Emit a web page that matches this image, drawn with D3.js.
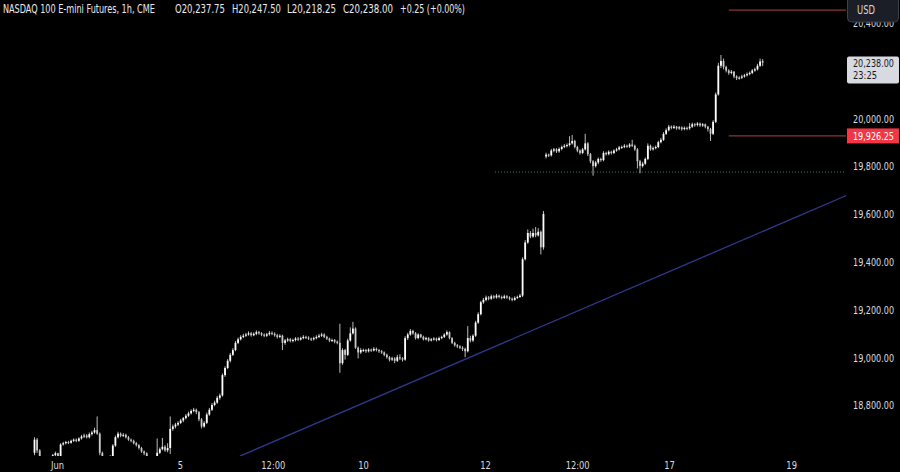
<!DOCTYPE html>
<html><head><meta charset="utf-8">
<script src="https://cdn.jsdelivr.net/npm/d3@7"></script>
<style>html,body{margin:0;padding:0;background:#000;} svg{display:block;}</style>
</head><body>
<svg id="c" width="900" height="472"></svg>
<script>
// ---- DATA (hourly bars, NQ1! continuous) ----
const title = "NASDAQ 100 E-mini Futures, 1h, CME";
const opens = [
18600,18655,18610,18570,18560,18575,18565,18580,18590,18598,
18585,18635,18640,18645,18642,18650,18655,18650,18660,18668,
18672,18665,18678,18685,18695,18680,18600,18570,18560,18575,
18580,18630,18665,18680,18672,18675,18665,18655,18650,18640,
18632,18620,18605,18598,18575,18565,18570,18580,18600,18615,
18625,18610,18620,18700,18710,18718,18725,18735,18745,18755,
18765,18775,18780,18770,18740,18710,18725,18760,18780,18800,
18810,18830,18840,18925,18955,18985,19010,19030,19060,19075,
19085,19090,19095,19100,19092,19098,19105,19100,19094,19090,
19096,19102,19098,19092,19085,19090,19060,19070,19075,19068,
19072,19078,19074,19080,19085,19082,19078,19075,19080,19085,
19090,19095,19085,19078,19070,19072,19065,19060,18975,19030,
19010,19070,19100,19120,19040,19020,19030,19030,19025,19032,
19028,19035,19030,19025,19020,19010,19000,18990,18995,18985,
19000,18995,18990,19080,19095,19110,19100,19080,19095,19085,
19075,19080,19070,19075,19078,19072,19080,19085,19095,19105,
19080,19060,19050,19045,19040,19035,19025,19080,19070,19090,
19145,19180,19230,19240,19250,19245,19255,19250,19258,19252,
19248,19255,19250,19245,19240,19248,19252,19258,19410,19480,
19520,19505,19520,19510,19525,19460,19840,19848,19845,19865,
19870,19862,19872,19880,19885,19888,19895,19905,19880,19865,
19855,19870,19895,19850,19820,19800,19815,19830,19825,19855,
19850,19860,19855,19865,19870,19878,19880,19885,19882,19890,
19885,19870,19820,19800,19810,19830,19885,19870,19875,19880,
19900,19910,19935,19950,19965,19960,19965,19958,19962,19955,
19960,19958,19965,19975,19972,19978,19970,19975,19965,19955,
19935,19985,20100,20220,20240,20215,20200,20190,20195,20175,
20168,20170,20175,20180,20185,20190,20200,20205,20220,20237.75];
const highs = [
18665,18662,18615,18578,18582,18580,18586,18595,18605,18600,
18640,18646,18650,18650,18655,18660,18660,18665,18675,18680,
18678,18685,18692,18705,18752,18685,18605,18575,18580,18590,
18636,18672,18688,18685,18682,18680,18670,18660,18655,18645,
18636,18625,18610,18602,18580,18578,18586,18660,18622,18662,
18632,18640,18752,18718,18725,18732,18742,18750,18762,18772,
18782,18788,18785,18775,18745,18732,18768,18788,18808,18818,
18838,18848,18932,18962,18992,19018,19038,19068,19082,19092,
19098,19102,19108,19106,19104,19112,19110,19105,19100,19102,
19110,19108,19104,19098,19096,19094,19076,19082,19080,19078,
19084,19084,19086,19092,19090,19088,19082,19086,19092,19098,
19102,19100,19090,19082,19078,19076,19070,19140,19038,19035,
19078,19125,19148,19125,19045,19038,19036,19035,19038,19036,
19042,19040,19034,19030,19024,19015,19005,19002,19000,19010,
19012,19000,19088,19102,19118,19115,19105,19100,19098,19090,
19086,19084,19080,19084,19082,19086,19090,19100,19112,19108,
19084,19065,19055,19050,19046,19040,19130,19090,19096,19152,
19188,19236,19248,19258,19256,19262,19260,19265,19262,19258,
19262,19260,19255,19250,19255,19258,19265,19418,19490,19535,
19528,19538,19545,19540,19530,19612,19856,19852,19872,19876,
19875,19878,19886,19892,19895,19925,19930,19910,19885,19870,
19876,19935,19900,19855,19825,19822,19836,19835,19862,19860,
19866,19864,19870,19876,19884,19886,19892,19890,19896,19910,
19890,19875,19826,19818,19836,19895,19890,19882,19886,19906,
19918,19942,19958,19972,19970,19972,19968,19968,19966,19966,
19965,19980,19982,19980,19984,19982,19980,19978,19968,19960,
19992,20108,20232,20265,20250,20220,20205,20202,20198,20180,
20176,20182,20186,20192,20196,20206,20212,20228,20250,20247.5];
const lows = [
18590,18600,18560,18550,18555,18558,18560,18575,18585,18578,
18580,18630,18635,18636,18638,18645,18644,18646,18655,18662,
18660,18660,18672,18680,18675,18590,18560,18550,18555,18568,
18575,18625,18660,18665,18666,18660,18650,18644,18635,18626,
18614,18600,18590,18568,18558,18560,18565,18575,18595,18610,
18604,18602,18595,18692,18702,18712,18720,18728,18740,18750,
18760,18770,18762,18732,18702,18705,18720,18755,18775,18795,
18805,18822,18835,18918,18950,18978,19005,19025,19055,19070,
19080,19085,19090,19086,19088,19092,19094,19088,19084,19085,
19090,19092,19086,19078,19080,19030,19052,19064,19062,19062,
19066,19068,19070,19075,19076,19072,19068,19070,19075,19080,
19085,19080,19072,19064,19064,19058,19054,18935,18968,18990,
19005,19065,19095,19035,18995,19014,19022,19018,19020,19022,
19024,19024,19018,19014,19004,18994,18982,18984,18975,18980,
18988,18982,18985,19072,19090,19094,19074,19075,19080,19070,
19070,19065,19066,19070,19066,19068,19075,19080,19090,19075,
19055,19044,19038,19034,19026,19000,19020,19062,19064,19085,
19140,19175,19224,19234,19238,19240,19244,19245,19246,19242,
19244,19244,19238,19234,19236,19244,19248,19252,19405,19475,
19498,19500,19502,19505,19430,19450,19832,19838,19840,19858,
19855,19856,19866,19875,19878,19882,19890,19874,19858,19848,
19850,19865,19842,19812,19760,19794,19808,19818,19820,19844,
19845,19848,19850,19860,19865,19872,19875,19876,19876,19880,
19864,19790,19770,19794,19805,19825,19864,19865,19870,19875,
19895,19905,19930,19945,19954,19955,19952,19952,19948,19950,
19950,19952,19960,19965,19966,19964,19964,19958,19945,19905,
19930,19980,20095,20210,20205,20192,20182,20184,20168,20160,
20162,20164,20170,20175,20180,20185,20195,20200,20215,20218.25];
const closes = [
18655,18610,18570,18560,18575,18565,18580,18590,18598,18585,
18635,18640,18645,18642,18650,18655,18650,18660,18668,18672,
18665,18678,18685,18695,18680,18600,18570,18560,18575,18580,
18630,18665,18680,18672,18675,18665,18655,18650,18640,18632,
18620,18605,18598,18575,18565,18570,18580,18600,18615,18625,
18610,18620,18700,18710,18718,18725,18735,18745,18755,18765,
18775,18780,18770,18740,18710,18725,18760,18780,18800,18810,
18830,18840,18925,18955,18985,19010,19030,19060,19075,19085,
19090,19095,19100,19092,19098,19105,19100,19094,19090,19096,
19102,19098,19092,19085,19090,19060,19070,19075,19068,19072,
19078,19074,19080,19085,19082,19078,19075,19080,19085,19090,
19095,19085,19078,19070,19072,19065,19060,18975,19030,19010,
19070,19100,19120,19040,19020,19030,19030,19025,19032,19028,
19035,19030,19025,19020,19010,19000,18990,18995,18985,19000,
18995,18990,19080,19095,19110,19100,19080,19095,19085,19075,
19080,19070,19075,19078,19072,19080,19085,19095,19105,19080,
19060,19050,19045,19040,19035,19025,19080,19070,19090,19145,
19180,19230,19240,19250,19245,19255,19250,19258,19252,19248,
19255,19250,19245,19240,19248,19252,19258,19410,19480,19520,
19505,19520,19510,19525,19460,19600,19848,19845,19865,19870,
19862,19872,19880,19885,19888,19895,19905,19880,19865,19855,
19870,19895,19850,19820,19800,19815,19830,19825,19855,19850,
19860,19855,19865,19870,19878,19880,19885,19882,19890,19885,
19870,19820,19800,19810,19830,19885,19870,19875,19880,19900,
19910,19935,19950,19965,19960,19965,19958,19962,19955,19960,
19958,19965,19975,19972,19978,19970,19975,19965,19955,19935,
19985,20100,20220,20240,20215,20200,20190,20195,20175,20168,
20170,20175,20180,20185,20190,20200,20205,20220,20237.75,20238];

const yTicks = [18800,19000,19200,19400,19600,19800,20000,20400];
const xTickIdx = [8.6,55.7,91.3,125.9,172.6,207.9,243.1,289.9];
const xTickLabels = ["Jun","5","12:00","10","12","12:00","17","19"];
const trendIdx = [78.7,311.9];
const trendPrice = [18586,19681];
const hLineLevels = [20453,19926.25];
const hLineStartIdx = 266;
const supportLevel = 19775;
const supportStartIdx = 176.4;
const alertLabel = "19,926.25";
const lastPriceLabel = "20,238.00";
const countdownLabel = "23:25";
const changeLabel = "+0.25 (+0.00%)";

// ---- CHART ----
const W=900,H=472,paneR=846,paneB=456;
const FONT="'Liberation Sans Narrow','Arial Narrow','DejaVu Sans Condensed','Liberation Sans',Arial,sans-serif";
const svg=d3.select('#c');
svg.append('rect').attr('width',W).attr('height',H).attr('fill','#000');
const x=d3.scaleLinear().domain([0,279]).range([34.5,762.7]);
const y=d3.scaleLinear().domain([18800,20000]).range([405,118.3]);
const fmt=d3.format(",.2f");

// horizontally fit a text element to a target width (scale about its anchor)
function fitW(sel,target){
  sel.each(function(){
    const w=this.getComputedTextLength();
    const sx=Math.max(0.6,Math.min(1.2,target/w));
    const t=d3.select(this);
    const tx=+t.attr('x')||0, ty=+t.attr('y')||0;
    t.attr('x',0).attr('y',0).attr('transform',`translate(${tx},${ty}) scale(${sx},1)`);
  });
}
function label(str,xx,yy,size,fill,anchor,target){
  const t=svg.append('text').text(str).attr('x',xx).attr('y',yy)
    .attr('font-family',FONT).attr('font-size',size).attr('fill',fill).attr('text-anchor',anchor||'start');
  if(target) fitW(t,target);
  return t;
}

svg.append('defs').append('clipPath').attr('id','pane')
  .append('rect').attr('x',0).attr('y',0).attr('width',paneR).attr('height',paneB);
const pane=svg.append('g').attr('clip-path','url(#pane)');

// trend line
pane.append('line')
  .attr('x1',x(trendIdx[0])).attr('y1',y(trendPrice[0]))
  .attr('x2',x(trendIdx[1])).attr('y2',y(trendPrice[1]))
  .attr('stroke','#2d3a8f').attr('stroke-width',1.3);

// support dotted
pane.append('line')
  .attr('x1',x(supportStartIdx)).attr('x2',paneR)
  .attr('y1',y(supportLevel)).attr('y2',y(supportLevel))
  .attr('stroke','#4e7c7c').attr('stroke-width',1).attr('stroke-dasharray','1,2');

// horizontal red lines
pane.selectAll('line.h').data(hLineLevels).join('line').attr('class','h')
  .attr('x1',x(hLineStartIdx)).attr('x2',paneR)
  .attr('y1',d=>y(d)).attr('y2',d=>y(d))
  .attr('stroke','#8c3636').attr('stroke-width',1.2);

// candles
const bars=d3.range(closes.length).map(i=>({i,o:opens[i],h:highs[i],l:lows[i],c:closes[i]}));
const cg=pane.append('g');
cg.selectAll('line.w').data(bars).join('line').attr('class','w')
  .attr('x1',d=>x(d.i)).attr('x2',d=>x(d.i))
  .attr('y1',d=>y(d.h)).attr('y2',d=>y(d.l))
  .attr('stroke','#d0d0d0').attr('stroke-width',0.9);
cg.selectAll('rect').data(bars).join('rect')
  .attr('x',d=>x(d.i)-0.9).attr('width',1.8)
  .attr('y',d=>y(Math.max(d.o,d.c)))
  .attr('height',d=>Math.max(1,Math.abs(y(d.o)-y(d.c))))
  .attr('fill',d=>d.c>=d.o?'#ffffff':'#c8c8c8');

// y axis
const ya=svg.append('g').attr('transform','translate(894,0)')
  .call(d3.axisRight(y).tickValues(yTicks).tickFormat(fmt).tickSize(0));
ya.select('.domain').remove();
ya.selectAll('text').attr('x',0).attr('y',0).attr('dy','0.35em').attr('text-anchor','end')
  .attr('font-family',FONT).attr('font-size',11).attr('fill','#dedede');
fitW(ya.selectAll('text'),41);

// x axis
const xa=svg.append('g')
  .call(d3.axisBottom(x).tickValues(xTickIdx).tickFormat((d,i)=>xTickLabels[i]).tickSize(0));
xa.select('.domain').remove();
xa.selectAll('text').attr('y',469).attr('dy',0)
  .attr('font-family',FONT).attr('font-size',11).attr('fill','#dedede');
{ // common horizontal scale from the "12:00" label (24px wide in the original)
  const ref=xa.selectAll('text').filter(function(){return this.textContent==='12:00';}).node();
  const sx=Math.max(0.6,Math.min(1.2,24/ref.getComputedTextLength()));
  xa.selectAll('text').attr('y',0).attr('transform',`translate(0,469) scale(${sx},1)`);
}

// USD box (covers the top of the 20,400 label as in the original)
svg.append('rect').attr('x',847.5).attr('y',-4).attr('width',51).attr('height',26).attr('rx',4)
  .attr('fill','#1b1e26').attr('stroke','#3b3f4a');
label('USD',857,13.5,12,'#d6d8de','start',18);

// last price label
const lastY=y(closes[closes.length-1]);
svg.append('rect').attr('x',847).attr('y',lastY-5).attr('width',52).attr('height',27).attr('rx',2)
  .attr('fill','#d7dae1');
label(lastPriceLabel,853,lastY+5.5,11,'#131722','start',41);
label(countdownLabel,853,lastY+17.5,11,'#131722','start',24);

// alert label (red)
const aY=y(hLineLevels[1]);
svg.append('rect').attr('x',847).attr('y',aY-7.5).attr('width',52).attr('height',15)
  .attr('fill','#f23645');
label(alertLabel,853,aY+4,11,'#ffffff','start',41);

// header
const L=closes.length-1;
const header=[
  {t:title,x:3,w:152},
  {t:'O'+fmt(opens[L]),x:175,w:50},
  {t:'H'+fmt(highs[L]),x:232,w:49},
  {t:'L'+fmt(lows[L]),x:287,w:49},
  {t:'C'+fmt(closes[L]),x:343,w:50},
  {t:changeLabel,x:400,w:65}
];
header.forEach(h=>label(h.t,h.x,13,11.5,'#ececec','start',h.w));
</script>
</body></html>
